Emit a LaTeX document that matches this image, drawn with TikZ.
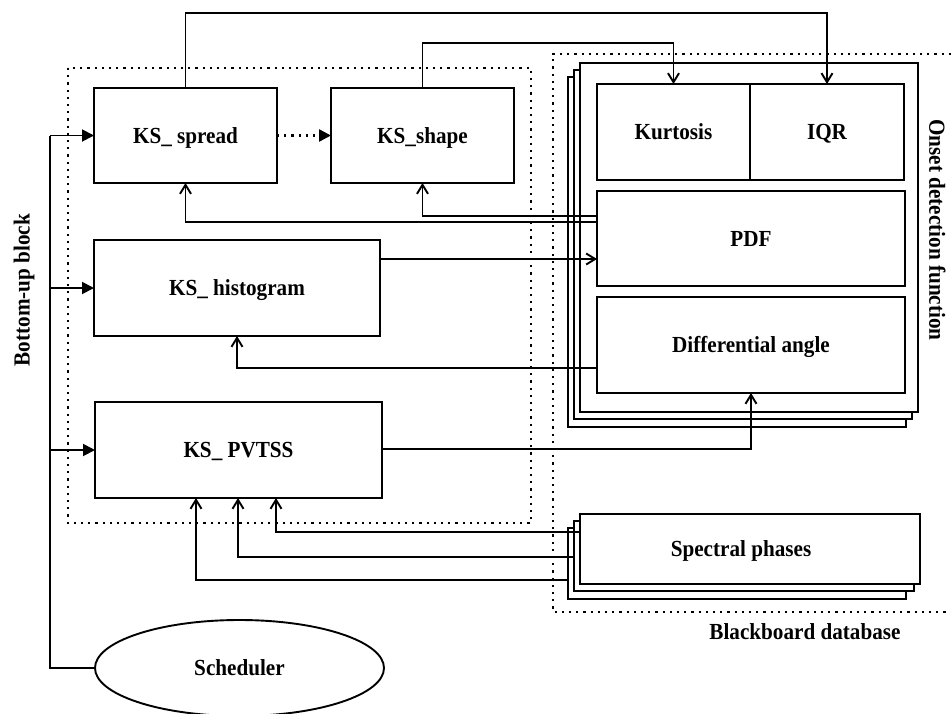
\documentclass[tikz,border=0pt]{standalone}
\usepackage{fontspec}
\setmainfont{Liberation Serif}[FakeStretch=0.92]
\usetikzlibrary{arrows.meta,shapes.geometric}
\begin{document}
\begin{tikzpicture}[x=1pt,y=-1pt,
  line width=1.9pt,
  every node/.style={font=\bfseries\fontsize{23}{27}\selectfont, inner sep=0pt, outer sep=0pt, text height=15.2pt, text depth=0pt},
  box/.style={draw, fill=white, rectangle, line width=1.9pt},
  dotbox/.style={line width=2.5pt, dash pattern=on 2.2pt off 5pt},
  conn/.style={line width=1.9pt, -{Straight Barb[length=9pt,width=11pt,line width=1.9pt]}},
  tri/.style={line width=1.9pt, -{Triangle[length=12pt,width=12pt]}}
]
\useasboundingbox (0,0) rectangle (951,713);
\fill[white] (0,0) rectangle (951,713);

% dotted groups
\draw[dotbox] (68,68) rectangle (531,523);
\draw[dotbox] (951,54) -- (553,54) -- (553,612) -- (951,612);

% onset detection stack
\node[box, minimum width=338, minimum height=350] (odfback) at (737,252) {};
\node[box, minimum width=338, minimum height=349] (odfmid) at (743,244.5) {};
\node[box, minimum width=338, minimum height=349] (odf) at (749,237.5) {};
\node[box, minimum width=153, minimum height=96] (kurt) at (673.5,132) {Kurtosis};
\node[box, minimum width=154, minimum height=96] (iqr) at (827,132) {IQR};
\node[box, minimum width=308, minimum height=95] (pdf) at (751,238.5) {PDF};
\node[box, minimum width=308, minimum height=96] (diff) at (751,345) {Differential angle};

% spectral phases stack
\node[box, minimum width=338, minimum height=71] (specback) at (737,563.5) {};
\node[box, minimum width=340, minimum height=70] (specmid) at (744,556) {};
\node[box, minimum width=340, minimum height=70] (spec) at (750,549) {};
\node (spectxt) at (741,549) {Spectral phases};

% knowledge sources
\node[box, minimum width=183, minimum height=95] (spread) at (185.5,135.5) {KS\_ spread};
\node[box, minimum width=183, minimum height=95] (shape) at (422.5,135.5) {KS\_shape};
\node[box, minimum width=286, minimum height=96] (hist) at (237,288) {KS\_ histogram};
\node[box, minimum width=287, minimum height=96] (pvtss) at (238.5,450) {KS\_ PVTSS};

% scheduler
\node[draw, ellipse, line width=1.9pt, minimum width=289, minimum height=96] (sched) at (239.5,668) {Scheduler};

% labels
\node[rotate=90] (lblbu) at (22,290) {Bottom-up block};
\node[rotate=-90] (lblodf) at (937,230) {Onset detection function};
\node (lblbb) at (805,632) {Blackboard database};

% scheduler bus
\coordinate (b0) at (50,668);
\coordinate (b1) at (50,288);
\coordinate (b2) at (50,135.5);
\draw[line width=2.7pt] (sched.west) -- (b0) -- (b1);
\draw (b1) -- (b2);
\draw[tri] (b2) -- (spread.west);
\draw[tri] (b1) -- (hist.west);
\draw[tri] (b1 |- pvtss.west) -- (pvtss.west);

% spread -> shape dotted
\draw[line width=2.5pt, dash pattern=on 2.2pt off 5pt, -{Triangle[length=12pt,width=12pt]}] (spread.east) -- (shape.west);

% top feeds
\draw[conn] (spread.north) -- (185.5,13) -- (iqr.north |- 0,13) -- (iqr.north);
\draw[conn] (shape.north) -- (422.5,43) -- (kurt.north |- 0,43) -- (kurt.north);

% PDF back to spread and shape
\draw[conn] (pdf.west |- 0,216) -- (shape.south |- 0,216) -- (shape.south);
\draw[conn] (pdf.west |- 0,222) -- (spread.south |- 0,222) -- (spread.south);

% histogram -> PDF
\draw[conn] (hist.east |- 0,259) -- (pdf.west |- 0,259);

% differential angle -> histogram
\draw[conn] (diff.west |- 0,368) -- (hist.south |- 0,368) -- (hist.south);

% PVTSS -> differential angle
\draw[conn] (pvtss.east |- 0,449) -- (diff.south |- 0,449) -- (diff.south);

% spectral phases -> PVTSS
\draw[conn] (spec.west |- 0,532) -- (276,532) -- (276,498);
\draw[conn] (specmid.west |- 0,557) -- (238,557) -- (238,498);
\draw[conn] (specback.west |- 0,580) -- (196,580) -- (196,498);
\end{tikzpicture}
\end{document}
